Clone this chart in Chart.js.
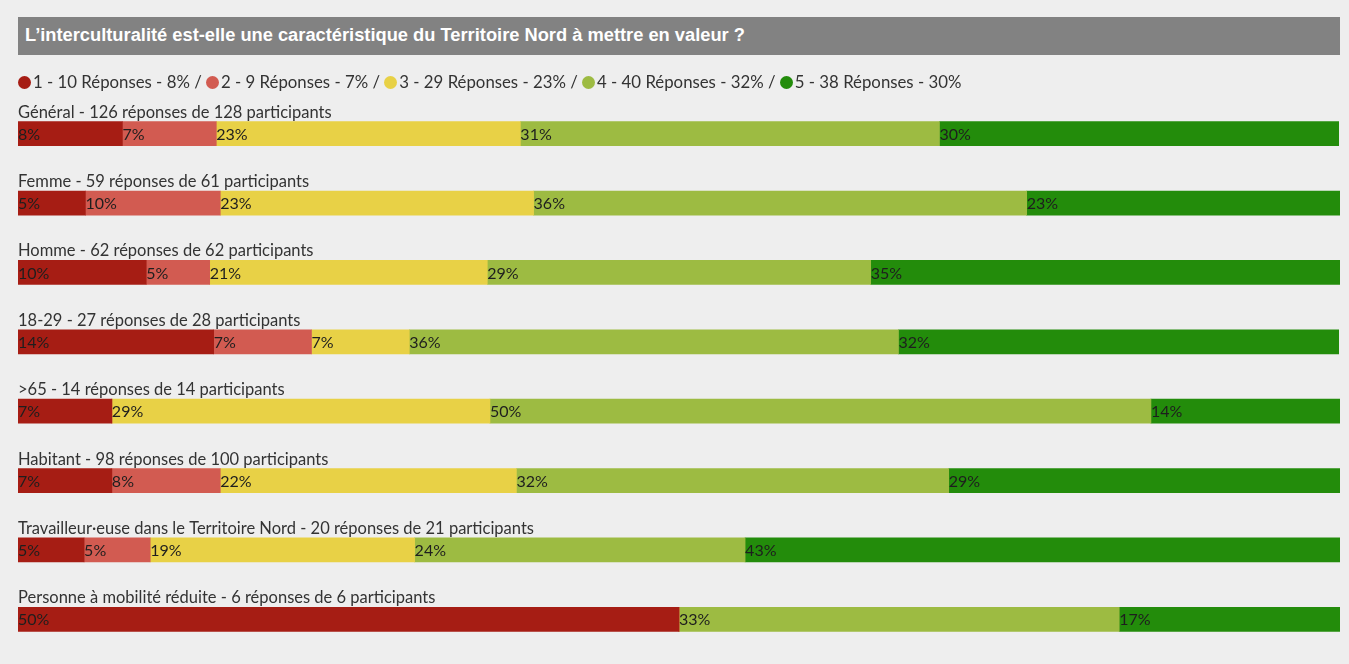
<!DOCTYPE html>
<html>
<head>
<meta charset="utf-8">
<script src="https://cdn.jsdelivr.net/npm/chart.js@4.4.0/dist/chart.umd.min.js"></script>
<style>
  html, body { margin: 0; padding: 0; }
  body { width: 1349px; height: 664px; background: #eeeeee; position: relative; overflow: hidden; font-family: Lato, sans-serif; }
  #title { position: absolute; left: 18px; top: 17px; width: 1322px; height: 38px; background: #828282;
    color: #fff; font: bold 18.3px "Liberation Sans", Arial, sans-serif; line-height: 36px; box-sizing: border-box; padding-left: 7px; }
  #legend { position: absolute; left: 18px; top: 71px; font: 16.8px Lato, sans-serif; color: #333; white-space: nowrap; }
  #legend .dot { display: inline-block; width: 13px; height: 13px; border-radius: 50%; vertical-align: -1px; margin-right: 2px; }
  #wrap { position: absolute; left: 0; top: 0; width: 1349px; height: 664px; }
</style>
</head>
<body>
<div id="wrap"><canvas id="bars"></canvas></div>
<div id="title">L’interculturalité est-elle une caractéristique du Territoire Nord à mettre en valeur ?</div>
<div id="legend"></div>
<script>
let groups = [
  'Général - 126 réponses de 128 participants',
  'Femme - 59 réponses de 61 participants',
  'Homme - 62 réponses de 62 participants',
  '18-29 - 27 réponses de 28 participants',
  '>65 - 14 réponses de 14 participants',
  'Habitant - 98 réponses de 100 participants',
  'Travailleur·euse dans le Territoire Nord - 20 réponses de 21 participants',
  'Personne à mobilité réduite - 6 réponses de 6 participants'
];
let legendTexts = ['1 - 10 Réponses - 8%', '2 - 9 Réponses - 7%', '3 - 29 Réponses - 23%', '4 - 40 Réponses - 32%', '5 - 38 Réponses - 30%'];
let colors = ['#a61d14', '#d25b51', '#e8d146', '#9dbb42', '#238c0b'];

// share of answers (%) per rating, one entry per group
let rating1 = [7.9, 5.1, 9.7, 14.8, 7.1, 7.1, 5.0, 50.0];
let rating2 = [7.1, 10.2, 4.8, 7.4, 0, 8.2, 5.0, 0];
let rating3 = [23.0, 23.7, 21.0, 7.4, 28.6, 22.4, 20.0, 0];
let rating4 = [31.7, 37.3, 29.0, 37.0, 50.0, 32.7, 25.0, 33.3];
let rating5 = [30.2, 23.7, 35.5, 33.3, 14.3, 29.6, 45.0, 16.7];

// labels as printed on the bars
let label1 = ['8%', '5%', '10%', '14%', '7%', '7%', '5%', '50%'];
let label2 = ['7%', '10%', '5%', '7%', '', '8%', '5%', ''];
let label3 = ['23%', '23%', '21%', '7%', '29%', '22%', '19%', ''];
let label4 = ['31%', '36%', '29%', '36%', '50%', '32%', '24%', '33%'];
let label5 = ['30%', '23%', '35%', '32%', '14%', '29%', '43%', '17%'];

let series = [rating1, rating2, rating3, rating4, rating5];
let segLabels = [label1, label2, label3, label4, label5];

let legend = document.getElementById('legend');
legend.innerHTML = legendTexts.map((t, i) =>
  '<span class="dot" style="background:' + colors[i] + '"></span>' + t
).join(' / ');

let barText = {
  id: 'barText',
  afterDatasetsDraw(chart) {
    let ctx = chart.ctx;
    ctx.save();
    ctx.textBaseline = 'middle';
    ctx.textAlign = 'left';
    ctx.fillStyle = '#1e1e1e';
    ctx.font = '16px Lato, sans-serif';
    chart.data.datasets.forEach((ds, d) => {
      let meta = chart.getDatasetMeta(d);
      meta.data.forEach((bar, i) => {
        if (!ds.data[i]) return;
        ctx.fillText(segLabels[d][i], Math.min(bar.x, bar.base), bar.y + 1);
      });
    });
    // group names above each bar
    let first = chart.getDatasetMeta(0).data;
    ctx.textBaseline = 'alphabetic';
    ctx.fillStyle = '#333';
    ctx.font = '16.5px Lato, sans-serif';
    first.forEach((bar, i) => {
      ctx.fillText(groups[i], chart.chartArea.left, bar.y - bar.height / 2 - 4);
    });
    ctx.restore();
  }
};

new Chart(document.getElementById('bars'), {
  type: 'bar',
  data: {
    labels: groups,
    datasets: series.map((s, i) => ({
      data: s,
      backgroundColor: colors[i],
      borderWidth: 0,
      barThickness: 24
    }))
  },
  options: {
    indexAxis: 'y',
    responsive: true,
    maintainAspectRatio: false,
    animation: false,
    layout: { padding: { left: 18, right: 9, top: 99, bottom: 10 } },
    scales: {
      x: { stacked: true, min: 0, max: 100, display: false },
      y: { stacked: true, display: false }
    },
    plugins: { legend: { display: false }, tooltip: { enabled: false }, title: { display: false } }
  },
  plugins: [barText]
});
</script>
</body>
</html>
